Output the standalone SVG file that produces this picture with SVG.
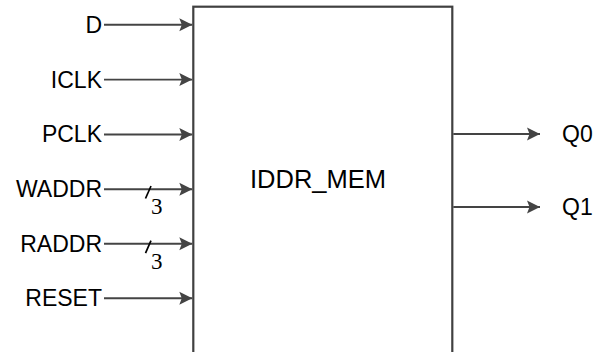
<svg xmlns="http://www.w3.org/2000/svg" width="595" height="352" viewBox="0 0 595 352">
<style>
.lbl{font-family:"Liberation Sans",Arial,sans-serif;font-size:23px;fill:#000}
.ttl{font-family:"Liberation Sans",Arial,sans-serif;font-size:25.5px;fill:#000}
.num{font-family:"Liberation Serif","Times New Roman",serif;font-size:23px;fill:#000}
.wire{stroke:#444;stroke-width:1.9;fill:none}
.box{stroke:#404040;stroke-width:2.2;fill:#fff}
.slash{stroke:#000;stroke-width:1.7}
</style>
<defs>
<marker id="arr" markerUnits="userSpaceOnUse" markerWidth="16" markerHeight="16" viewBox="-14 -8 16 16" refX="0" refY="0" orient="auto">
<path d="M0,0 L-13,-6.5 L-10.5,0 L-13,6.5 Z" fill="#444"/>
</marker>
</defs>
<g id="IDDR_MEM">
<rect class="box" x="193.3" y="6.7" width="259" height="370"/>
<text class="ttl" x="250" y="188">IDDR_MEM</text>
</g>
<g id="connectors">
<line class="wire" x1="104" y1="24.7" x2="192.3" y2="24.7" marker-end="url(#arr)"/>
<line class="wire" x1="104" y1="79.6" x2="192.3" y2="79.6" marker-end="url(#arr)"/>
<line class="wire" x1="104" y1="134.5" x2="192.3" y2="134.5" marker-end="url(#arr)"/>
<line class="wire" x1="104" y1="189.2" x2="192.3" y2="189.2" marker-end="url(#arr)"/>
<line class="wire" x1="104" y1="243.8" x2="192.3" y2="243.8" marker-end="url(#arr)"/>
<line class="wire" x1="104" y1="298.3" x2="192.3" y2="298.3" marker-end="url(#arr)"/>
<line class="wire" x1="453.3" y1="134" x2="540" y2="134" marker-end="url(#arr)"/>
<line class="wire" x1="453.3" y1="207" x2="540" y2="207" marker-end="url(#arr)"/>
<line class="slash" x1="145.5" y1="198.5" x2="151" y2="186"/>
<line class="slash" x1="145.5" y1="253.1" x2="151" y2="240.6"/>
<text class="num" x="151" y="214">3</text>
<text class="num" x="151" y="268.6">3</text>
</g>
<g id="D"><text class="lbl" x="102" y="32.6" text-anchor="end">D</text></g>
<g id="ICLK"><text class="lbl" x="102" y="87.5" text-anchor="end">ICLK</text></g>
<g id="PCLK"><text class="lbl" x="102" y="142.4" text-anchor="end">PCLK</text></g>
<g id="WADDR"><text class="lbl" x="102" y="197.1" text-anchor="end">WADDR</text></g>
<g id="RADDR"><text class="lbl" x="102" y="251.7" text-anchor="end">RADDR</text></g>
<g id="RESET"><text class="lbl" x="102" y="306.2" text-anchor="end">RESET</text></g>
<g id="Q0"><text class="lbl" x="562" y="141.9">Q0</text></g>
<g id="Q1"><text class="lbl" x="562" y="214.9">Q1</text></g>
</svg>
